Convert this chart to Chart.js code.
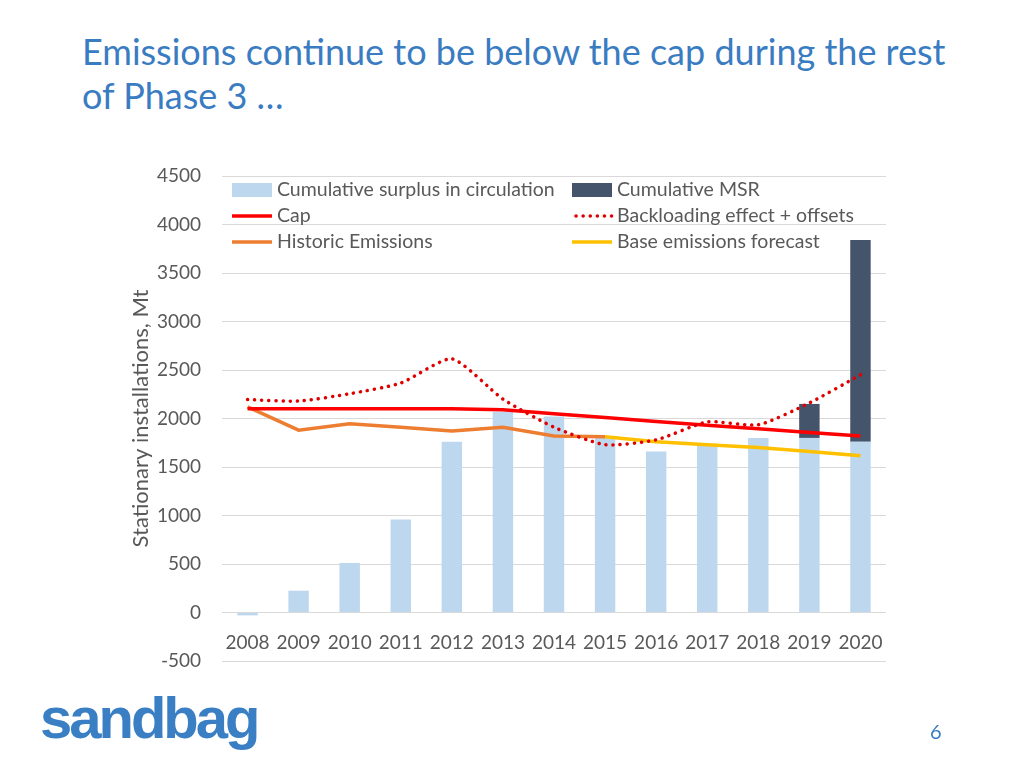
<!DOCTYPE html>
<html>
<head>
<meta charset="utf-8">
<script src="https://cdn.jsdelivr.net/npm/chart.js@4.4.1/dist/chart.umd.min.js"></script>
<style>
  body { margin: 0; background: #fff; width: 1024px; height: 768px; overflow: hidden; position: relative; font-family: Lato, sans-serif; }
  #titulo { position: absolute; left: 82px; top: 29px; color: #3a7cc2; font-size: 36px; line-height: 44px; white-space: nowrap; }
  #logo { position: absolute; left: 40px; top: 684px; color: #3a7fc4; font: bold 58px "Liberation Sans", Arial, sans-serif; letter-spacing: -3px; }
  #pagina { position: absolute; left: 930px; top: 719px; color: #3a7cc2; font-size: 20px; }
  canvas { position: absolute; left: 0; top: 0; }
</style>
</head>
<body>
<div id="titulo">Emissions continue to be below the cap during the rest<br>of Phase 3 …</div>
<canvas id="grafico" width="1024" height="768"></canvas>
<div id="logo">sandbag</div>
<div id="pagina">6</div>
<script>
// dados (Mt)
const anos = ["2008", "2009", "2010", "2011", "2012", "2013", "2014", "2015", "2016", "2017", "2018", "2019", "2020"];
const excedente = [-30, 225, 510, 960, 1760, 2070, 2020, 1800, 1660, 1740, 1800, 1800, 1760];
const msr = [null, null, null, null, null, null, null, null, null, null, null, 350, 2080];
const cap = [2100, 2100, 2100, 2100, 2100, 2090, 2050, 2010, 1970, 1930, 1895, 1855, 1820];
const backloading = [2195, 2180, 2255, 2365, 2615, 2200, 1910, 1730, 1780, 1965, 1935, 2160, 2450];
const historicas = [2120, 1880, 1945, 1910, 1870, 1910, 1820, 1813, null, null, null, null, null];
const previsao = [null, null, null, null, null, null, null, 1813, 1760, 1730, 1700, 1660, 1617];
const ticksY = [-500, 0, 500, 1000, 1500, 2000, 2500, 3000, 3500, 4000, 4500];

const cinza = "#595959";

// legenda desenhada dentro da área do gráfico, em duas colunas
const legendaInterna = {
    id: "legendaInterna",
    afterDraw(chart) {
        const ctx = chart.ctx;
        const colunas = [232, 572];
        const linhas = [190, 216, 242];
        ctx.save();
        ctx.font = "19.5px Lato";
        ctx.textBaseline = "middle";
        chart.data.datasets.forEach(function (ds, i) {
            const x = colunas[i % 2];
            const y = linhas[Math.floor(i / 2)];
            if (ds.type === "bar") {
                ctx.fillStyle = ds.backgroundColor;
                ctx.fillRect(x, y - 7, 40, 14);
            } else {
                ctx.strokeStyle = ds.borderColor;
                ctx.lineWidth = ds.borderWidth;
                ctx.lineCap = ds.borderCapStyle || "butt";
                ctx.setLineDash(ds.borderDash || []);
                ctx.beginPath();
                ctx.moveTo(x + (ds.borderDash ? 4 : 0), y);
                ctx.lineTo(x + 40, y);
                ctx.stroke();
                ctx.setLineDash([]);
            }
            ctx.fillStyle = cinza;
            ctx.fillText(ds.label, x + 45, y);
        });
        ctx.restore();
    }
};

new Chart(document.getElementById("grafico"), {
    data: {
        labels: anos,
        datasets: [
            { type: "bar", label: "Cumulative surplus in circulation", data: excedente, backgroundColor: "#bdd7ee", stack: "barras", order: 10, barPercentage: 0.4, categoryPercentage: 1 },
            { type: "bar", label: "Cumulative MSR", data: msr, backgroundColor: "#44546a", stack: "barras", order: 10, barPercentage: 0.4, categoryPercentage: 1 },
            { type: "line", label: "Cap", data: cap, borderColor: "#ff0000", borderWidth: 3.5, pointRadius: 0, stack: "cap", order: 3 },
            { type: "line", label: "Backloading effect + offsets", data: backloading, borderColor: "#e00000", borderWidth: 3.5, borderDash: [0.1, 7], borderCapStyle: "round", pointRadius: 0, tension: 0.2, stack: "back", order: 1 },
            { type: "line", label: "Historic Emissions", data: historicas, borderColor: "#ed7d31", borderWidth: 3.5, pointRadius: 0, stack: "hist", order: 4 },
            { type: "line", label: "Base emissions forecast", data: previsao, borderColor: "#ffc000", borderWidth: 3.5, pointRadius: 0, stack: "prev", order: 4 }
        ]
    },
    options: {
        responsive: false,
        animation: false,
        layout: { padding: { left: 120, right: 138, top: 176, bottom: 107 } },
        plugins: {
            legend: { display: false },
            tooltip: { enabled: false }
        },
        scales: {
            x: {
                position: { y: 0 },
                offset: true,
                stacked: true,
                grid: { display: false },
                border: { display: false },
                ticks: { color: cinza, font: { family: "Lato", size: 19 }, padding: 11, maxRotation: 0 }
            },
            y: {
                stacked: true,
                min: -500,
                max: 4500,
                afterBuildTicks(scale) { scale.ticks = ticksY.map(v => ({ value: v })); },
                afterFit(scale) { scale.width = 102; },
                grid: { color: "#d9d9d9", drawTicks: false },
                border: { display: false },
                ticks: { color: cinza, font: { family: "Lato", size: 19 }, padding: 21, callback: v => String(v) },
                title: { display: true, text: "Stationary installations, Mt", color: cinza, font: { family: "Lato", size: 22 }, padding: { top: 8, bottom: 0 } }
            }
        }
    },
    plugins: [legendaInterna]
});
</script>
</body>
</html>
